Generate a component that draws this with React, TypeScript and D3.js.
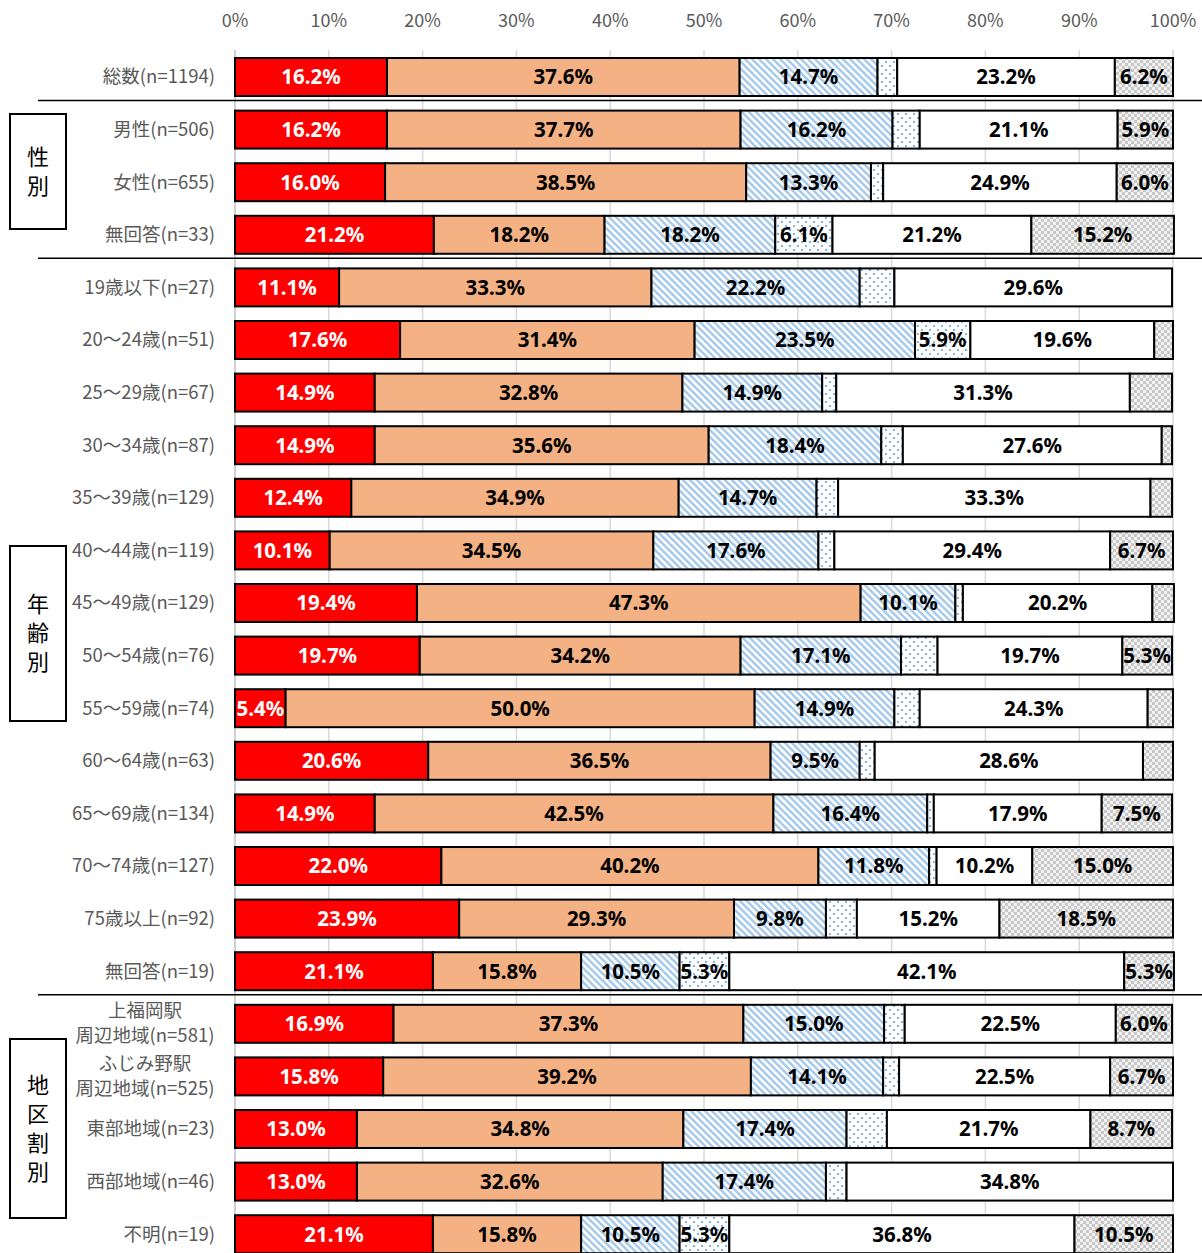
import React from "react";
import * as d3 from "d3";

const rowLabels: string[][] = [
  ["総数(n=1194)"],
  ["男性(n=506)"], ["女性(n=655)"], ["無回答(n=33)"],
  ["19歳以下(n=27)"], ["20～24歳(n=51)"], ["25～29歳(n=67)"], ["30～34歳(n=87)"],
  ["35～39歳(n=129)"], ["40～44歳(n=119)"], ["45～49歳(n=129)"], ["50～54歳(n=76)"],
  ["55～59歳(n=74)"], ["60～64歳(n=63)"], ["65～69歳(n=134)"], ["70～74歳(n=127)"],
  ["75歳以上(n=92)"], ["無回答(n=19)"],
  ["上福岡駅", "周辺地域(n=581)"], ["ふじみ野駅", "周辺地域(n=525)"],
  ["東部地域(n=23)"], ["西部地域(n=46)"], ["不明(n=19)"],
];

const s1 = [16.2, 16.2, 16.0, 21.2, 11.1, 17.6, 14.9, 14.9, 12.4, 10.1, 19.4, 19.7, 5.4, 20.6, 14.9, 22.0, 23.9, 21.1, 16.9, 15.8, 13.0, 13.0, 21.1];
const s2 = [37.6, 37.7, 38.5, 18.2, 33.3, 31.4, 32.8, 35.6, 34.9, 34.5, 47.3, 34.2, 50.0, 36.5, 42.5, 40.2, 29.3, 15.8, 37.3, 39.2, 34.8, 32.6, 15.8];
const s3 = [14.7, 16.2, 13.3, 18.2, 22.2, 23.5, 14.9, 18.4, 14.7, 17.6, 10.1, 17.1, 14.9, 9.5, 16.4, 11.8, 9.8, 10.5, 15.0, 14.1, 17.4, 17.4, 10.5];
const s4 = [2.1, 2.9, 1.3, 6.1, 3.7, 5.9, 1.5, 2.3, 2.3, 1.7, 0.8, 3.9, 2.7, 1.6, 0.7, 0.8, 3.3, 5.3, 2.2, 1.7, 4.3, 2.2, 5.3];
const s5 = [23.2, 21.1, 24.9, 21.2, 29.6, 19.6, 31.3, 27.6, 33.3, 29.4, 20.2, 19.7, 24.3, 28.6, 17.9, 10.2, 15.2, 42.1, 22.5, 22.5, 21.7, 34.8, 36.8];
const s6 = [6.2, 5.9, 6.0, 15.2, 0, 2.0, 4.5, 1.1, 2.3, 6.7, 2.3, 5.3, 2.7, 3.2, 7.5, 15.0, 18.5, 5.3, 6.0, 6.7, 8.7, 0, 10.5];

const seriesList = [s1, s2, s3, s4, s5, s6];
const seriesFills = ["#FF0000", "#F4B183", "url(#pStripe)", "url(#pDots)", "#FFFFFF", "url(#pCheck)"];
const seriesTextColors = ["#FFFFFF", "#000000", "#000000", "#000000", "#000000", "#000000"];

const xTicks = [0, 10, 20, 30, 40, 50, 60, 70, 80, 90, 100];
const separatorAfter = [0, 3, 17];
const groupLabels = ["性別", "年齢別", "地区割別"];
const groupBoxes = [[114, 229], [546, 721], [1039, 1218]];

const W = 1202;
const H = 1253;

export default function App() {
  const x = d3.scaleLinear().domain([0, 100]).range([235, 1173]);
  const ids = rowLabels.map((_, i) => i);
  const y = d3
    .scaleBand<number>()
    .domain(ids)
    .range([50.7, 50.7 + 23 * 52.6])
    .paddingInner(0.278)
    .paddingOuter(0.139);
  const bw = y.bandwidth();

  const rows = ids.map((i) => {
    let acc = 0;
    return seriesList.map((s, k) => {
      const v = s[i];
      const seg = { k, v, x0: acc, x1: acc + v };
      acc += v;
      return seg;
    });
  });

  const labelFont = "'Noto Sans CJK JP', 'Noto Sans', sans-serif";

  return (
    <svg
      width={W}
      height={H}
      style={{ position: "absolute", left: 0, top: 0, background: "#fff" }}
    >
      <defs>
        <pattern id="pStripe" patternUnits="userSpaceOnUse" width={7} height={7}>
          <rect width={7} height={7} fill="#FFFFFF" />
          <path d="M0,0 L7,7 M-1,6 L1,8 M6,-1 L8,1" stroke="#A9CBEB" strokeWidth={2.6} />
        </pattern>
        <pattern id="pDots" patternUnits="userSpaceOnUse" width={8} height={8}>
          <rect width={8} height={8} fill="#FFFFFF" />
          <circle cx={2} cy={2} r={1} fill="#5B9BD5" />
          <circle cx={6} cy={6} r={1} fill="#5B9BD5" />
        </pattern>
        <pattern id="pCheck" patternUnits="userSpaceOnUse" width={6} height={6}>
          <rect width={6} height={6} fill="#F2F2F2" />
          <rect x={0} y={0} width={3} height={3} fill="#C8C8C8" />
          <rect x={3} y={3} width={3} height={3} fill="#C8C8C8" />
        </pattern>
      </defs>

      {/* gridlines */}
      {xTicks.map((t) => (
        <line
          key={"g" + t}
          x1={x(t)}
          x2={x(t)}
          y1={50}
          y2={H}
          stroke={t === 0 ? "#D0D0D0" : "#D9D9D9"}
          strokeWidth={t === 0 ? 2 : 1.5}
        />
      ))}

      {/* tick labels */}
      {xTicks.map((t) => (
        <text
          key={"t" + t}
          x={x(t)}
          y={27}
          textAnchor="middle"
          fontSize={18}
          fill="#595959"
          fontFamily={labelFont}
        >
          {t + "%"}
        </text>
      ))}

      {/* separators */}
      {separatorAfter.map((i) => (
        <line
          key={"s" + i}
          x1={38}
          x2={W}
          y1={(y(i) as number) + bw + 4.5}
          y2={(y(i) as number) + bw + 4.5}
          stroke="#000"
          strokeWidth={1.5}
        />
      ))}

      {/* bars */}
      {rows.map((segs, i) => (
        <g key={"r" + i}>
          {segs
            .filter((s) => s.v > 0)
            .map((s) => (
              <rect
                key={s.k}
                x={x(s.x0)}
                y={y(i)}
                width={x(s.x1) - x(s.x0)}
                height={bw}
                fill={seriesFills[s.k]}
                stroke="#000"
                strokeWidth={2}
              />
            ))}
          {segs
            .filter((s) => s.v >= 5)
            .map((s) => (
              <text
                key={"l" + s.k}
                x={(x(s.x0) + x(s.x1)) / 2}
                y={(y(i) as number) + bw / 2}
                dy="0.36em"
                textAnchor="middle"
                fontSize={20.5}
                fontWeight="bold"
                fontFamily="'Noto Sans', sans-serif"
                fill={seriesTextColors[s.k]}
              >
                {s.v.toFixed(1) + "%"}
              </text>
            ))}
        </g>
      ))}

      {/* category labels */}
      {rowLabels.map((lines, i) => {
        const cy = (y(i) as number) + bw / 2;
        if (lines.length === 1) {
          return (
            <text
              key={"c" + i}
              x={215}
              y={cy}
              dy="0.35em"
              textAnchor="end"
              fontSize={18.5}
              fill="#595959"
              fontFamily={labelFont}
            >
              {lines[0]}
            </text>
          );
        }
        return (
          <text
            key={"c" + i}
            x={145}
            textAnchor="middle"
            fontSize={18.5}
            fill="#595959"
            fontFamily={labelFont}
          >
            {lines.map((ln, j) => (
              <tspan key={j} x={145} y={cy - 13 + j * 25} dy="0.35em">
                {ln}
              </tspan>
            ))}
          </text>
        );
      })}

      {/* group boxes */}
      {groupLabels.map((g, gi) => {
        const [t, b] = groupBoxes[gi];
        const chars = Array.from(g);
        const mid = (t + b) / 2;
        const step = 29;
        return (
          <g key={"gb" + gi}>
            <rect x={10} y={t} width={56} height={b - t} fill="#fff" stroke="#000" strokeWidth={2} />
            {chars.map((c, ci) => (
              <text
                key={ci}
                x={38}
                y={mid + (ci - (chars.length - 1) / 2) * step}
                dy="0.35em"
                textAnchor="middle"
                fontSize={22}
                fill="#000"
                fontFamily={labelFont}
              >
                {c}
              </text>
            ))}
          </g>
        );
      })}
    </svg>
  );
}
